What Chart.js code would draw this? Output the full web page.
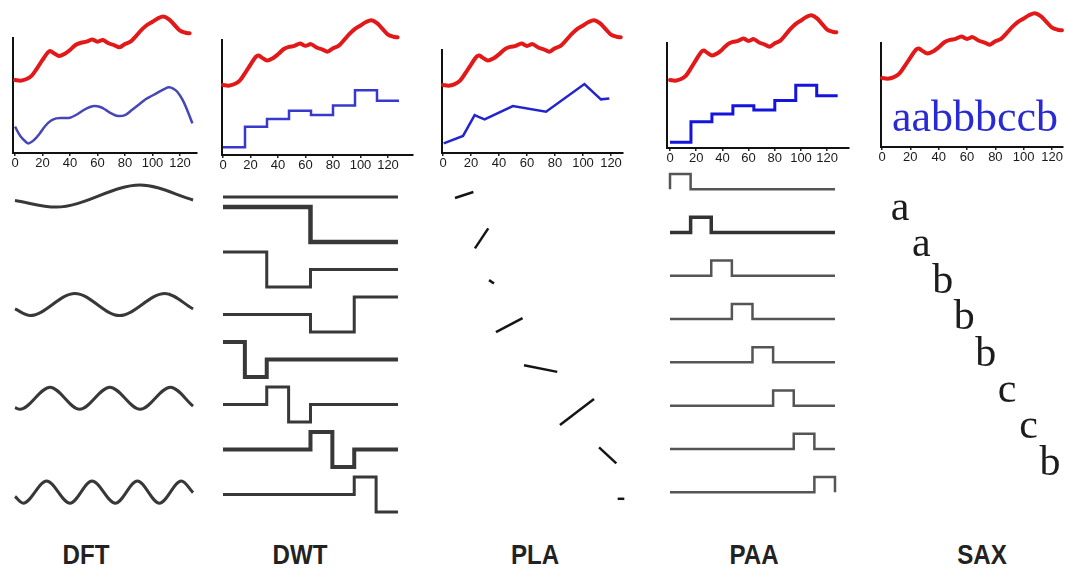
<!DOCTYPE html>
<html>
<head>
<meta charset="utf-8">
<script src="https://cdn.jsdelivr.net/npm/chart.js@4.4.0/dist/chart.umd.min.js"></script>
<style>
  body { margin: 0; width: 1070px; height: 570px; background: #fff; position: relative; overflow: hidden; }
  canvas { position: absolute; }
  .title { position: absolute; top: 539px; line-height: 28px; font: bold 28px "Liberation Sans", Arial, sans-serif; color: #222; transform: translateX(-50%) scaleX(0.86); white-space: nowrap; }
</style>
</head>
<body>
<div class="title" style="left:86px">DFT</div>
<div class="title" style="left:300px">DWT</div>
<div class="title" style="left:535px">PLA</div>
<div class="title" style="left:754px">PAA</div>
<div class="title" style="left:982px">SAX</div>
<script>
// ---- data ----
const xTicks = [0, 20, 40, 60, 80, 100, 120];

// the raw time series (red), same in every panel
const seriesX = [0, 4, 8, 12, 16, 20, 24, 26, 28, 32, 36, 40, 44, 48, 52, 56, 60, 64, 68, 72, 76, 80, 84, 88, 92, 96, 100, 104, 108, 112, 116, 120, 124, 127];
const seriesY = [63.5, 62.9, 64.1, 67, 73.6, 80.9, 87.6, 88.6, 87, 84.3, 86.1, 89.6, 93.9, 95.9, 96.8, 98.8, 96.8, 98.3, 95.4, 93.9, 91.9, 94.8, 96.8, 101.7, 107, 111.3, 114.2, 117.1, 118.6, 116.2, 111.3, 106.4, 104.6, 104.1];

// DFT approximation (blue)
const dftX = [0, 4, 8, 10, 14, 18, 22, 26, 30, 35, 40, 45, 50, 55, 58, 62, 66, 70, 75, 80, 85, 90, 95, 100, 105, 110, 112, 115, 118, 122, 126, 129];
const dftY = [22.9, 14.5, 9.5, 8.4, 11.5, 17, 23.5, 28, 30.1, 30.5, 30.7, 33.5, 37.4, 40.2, 40.9, 40, 37.5, 34.5, 32.2, 33, 37.4, 42, 46.7, 50, 53.3, 56.5, 57.1, 56, 53.3, 46, 35, 25.8];

// segment means used by DWT and PAA (8 segments of 16)
const segEdges = [0, 16, 32, 48, 64, 80, 96, 112, 128];
const segMeans = [10.5, 28, 34.5, 41.5, 38, 46, 59, 50];

// PLA approximation (blue)
const plaX = [0.5, 14.3, 22.6, 25, 29.7, 49.9, 73.6, 101, 112.8, 118.8];
const plaY = [13.8, 20.1, 37.9, 36.5, 34.3, 45.6, 40.8, 64.3, 51.3, 52.1];

// SAX word
const saxSymbols = ['a', 'a', 'b', 'b', 'b', 'c', 'c', 'b'];

// DFT basis waves: [t, level]
const dftBasis = [
  [[0, -0.4], [30, -1], [91, 1], [129.5, -0.35]],
  [[0, -0.4], [11, -1], [43.6, 1], [76, -1], [109, 1], [129.5, -0.4]],
  [[0, -0.85], [3.6, -1], [25.5, 1], [47, -1], [69, 1], [91, -1], [113, 1], [129.5, -0.7]],
  [[0, -0.4], [6, -1], [23, 1], [40, -1], [56, 1], [73, -1], [89, 1], [105, -1], [121, 1], [129.5, -0.05]]
];

// Haar basis levels per segment (1 = high, 0 = low)
const dwtBasis = [
  [0, 0, 0, 0, 0, 0, 0, 0],
  [1, 1, 1, 1, 0, 0, 0, 0],
  [1, 1, 0, 0, 0.5, 0.5, 0.5, 0.5],
  [0.5, 0.5, 0.5, 0.5, 0, 0, 1, 1],
  [1, 0, 0.5, 0.5, 0.5, 0.5, 0.5, 0.5],
  [0.5, 0.5, 1, 0, 0.5, 0.5, 0.5, 0.5],
  [0.5, 0.5, 0.5, 0.5, 1, 0, 0.5, 0.5],
  [0.5, 0.5, 0.5, 0.5, 0.5, 0.5, 1, 0]
];
const dwtWidths = [3, 4.5, 3, 3, 4, 3, 4, 3];

// PLA segments: [t0, t1, level0, level1]
const plaBasis = [
  [0, 13.8, -0.3, 0.3],
  [15, 25, -1, 1],
  [25.6, 29.3, 0.17, -0.17],
  [30.8, 50.8, -0.7, 0.7],
  [51.9, 76.9, 0.33, -0.33],
  [78.9, 104.5, -1.3, 1.3],
  [108.3, 121.3, 0.8, -0.8],
  [122.3, 127.3, 0, 0]
];

// PAA box functions
const paaBasis = [
  [1, 0, 0, 0, 0, 0, 0, 0],
  [0, 1, 0, 0, 0, 0, 0, 0],
  [0, 0, 1, 0, 0, 0, 0, 0],
  [0, 0, 0, 1, 0, 0, 0, 0],
  [0, 0, 0, 0, 1, 0, 0, 0],
  [0, 0, 0, 0, 0, 1, 0, 0],
  [0, 0, 0, 0, 0, 0, 1, 0],
  [0, 0, 0, 0, 0, 0, 0, 1]
];

// ---- layout ----
const cols = [
  { left: 0, width: 210, axisX: 13, axisTop: 38, axisBottom: 153, axisRight: 197, px0: 15, ppu: 1.375, yMin: 0, yMax: 100 },
  { left: 210, width: 220, axisX: 222, axisTop: 40, axisBottom: 155, axisRight: 413, px0: 223, ppu: 1.375, yMin: 3.9, yMax: 101.8 },
  { left: 430, width: 220, axisX: 442, axisTop: 50, axisBottom: 153, axisRight: 623, px0: 443, ppu: 1.4, yMin: 5.6, yMax: 93.3 },
  { left: 650, width: 220, axisX: 667, axisTop: 43, axisBottom: 148, axisRight: 849, px0: 670, ppu: 1.31, yMin: 5.6, yMax: 95 },
  { left: 870, width: 200, axisX: 881, axisTop: 43, axisBottom: 147, axisRight: 1063, px0: 882, ppu: 1.417, yMin: 4.8, yMax: 93.3 }
];
const bottoms = [
  { px0: 15, ppu: 1.375, rowTop: 199, rowGap: 97.7 },
  { px0: 223, ppu: 1.367, rowTop: 162, rowGap: 45 },
  { px0: 455, ppu: 1.33, rowTop: 195, rowGap: 43.4 },
  { px0: 670, ppu: 1.289, rowTop: 174, rowGap: 43.3 },
  { px0: 889.3, ppu: 1.339, rowTop: 220, rowGap: 36.4 }
];
// small vertical nudges of the DFT rows (row units)
const dftRowShift = [-0.03, 0.08, 0.04, 0];
const TOP_H = 175, BOT_Y = 170, BOT_H = 360, XAXIS_H = 20;

Chart.defaults.animation = false;
Chart.defaults.responsive = false;
Chart.defaults.plugins.legend.display = false;
Chart.defaults.plugins.tooltip.enabled = false;
Chart.defaults.elements.point.radius = 0;

function place(left, top, w, h) {
  const c = document.createElement('canvas');
  c.width = w; c.height = h;
  c.style.left = left + 'px'; c.style.top = top + 'px';
  c.style.width = w + 'px'; c.style.height = h + 'px';
  document.body.appendChild(c);
  return c;
}

const letterPlugin = {
  id: 'letters',
  afterDatasetsDraw(chart, args, opts) {
    if (!opts.labels) return;
    const ctx = chart.ctx;
    const meta = chart.getDatasetMeta(opts.dataset);
    ctx.save();
    ctx.font = opts.font;
    ctx.fillStyle = opts.color;
    ctx.textAlign = opts.align;
    ctx.textBaseline = 'alphabetic';
    meta.data.forEach((pt, i) => ctx.fillText(opts.labels[i], pt.x, pt.y));
    ctx.restore();
  }
};

function zip(xs, ys) { return xs.map((x, i) => ({ x: x, y: ys[i] })); }
function steps(edges, levels, f) {
  const pts = [];
  levels.forEach((v, k) => {
    pts.push({ x: edges[k], y: f(v) });
    pts.push({ x: edges[k + 1], y: f(v) });
  });
  return pts;
}

const redSet = {
  data: zip(seriesX, seriesY), borderColor: '#e31818', borderWidth: 4,
  tension: 0.3, clip: false, borderJoinStyle: 'round', borderCapStyle: 'round'
};

function topChart(i, extraSets, letters) {
  const c = cols[i];
  const cv = place(c.left, 0, c.width, TOP_H);
  new Chart(cv, {
    type: 'line',
    data: { datasets: [Object.assign({}, redSet)].concat(extraSets) },
    options: {
      layout: { padding: { left: c.axisX - c.left, right: c.left + c.width - c.axisRight, top: c.axisTop, bottom: TOP_H - c.axisBottom - XAXIS_H } },
      scales: {
        x: {
          type: 'linear', min: (c.axisX - c.px0) / c.ppu, max: (c.axisRight - c.px0) / c.ppu,
          afterFit: s => { s.height = XAXIS_H; },
          afterBuildTicks: s => { s.ticks = xTicks.map(v => ({ value: v })); },
          grid: { display: true, drawOnChartArea: false, tickLength: 3, color: '#222', lineWidth: 1.5 },
          border: { display: true, color: '#111', width: 2 },
          ticks: { autoSkip: false, maxRotation: 0, padding: 0, color: '#1a1a1a', font: { family: 'Liberation Sans', size: 13 } }
        },
        y: {
          min: c.yMin, max: c.yMax,
          afterFit: s => { s.width = 0; },
          ticks: { display: false },
          grid: { display: false, drawTicks: false },
          border: { display: true, color: '#111', width: 2 }
        }
      },
      plugins: { letters: letters || {} }
    },
    plugins: [letterPlugin]
  });
}

function bottomChart(i, datasets, letters) {
  const c = cols[i], b = bottoms[i];
  const cv = place(c.left, BOT_Y, c.width, BOT_H);
  const yMin = (BOT_Y - b.rowTop) / b.rowGap;
  new Chart(cv, {
    type: 'line',
    data: { datasets: datasets },
    options: {
      layout: { padding: 0 },
      scales: {
        x: { type: 'linear', display: false, min: (c.left - b.px0) / b.ppu, max: (c.left + c.width - b.px0) / b.ppu },
        y: { display: false, reverse: true, min: yMin, max: yMin + BOT_H / b.rowGap }
      },
      plugins: { letters: letters || {} }
    },
    plugins: [letterPlugin]
  });
}

// ---- top panels ----
topChart(0, [{ data: zip(dftX, dftY), borderColor: '#4646b6', borderWidth: 2.5, tension: 0.4 }]);
topChart(1, [{ data: steps(segEdges, segMeans, v => v), borderColor: '#3838cc', borderWidth: 2.5 }]);
topChart(2, [{ data: zip(plaX, plaY), borderColor: '#2424cc', borderWidth: 2.5 }]);
topChart(3, [{ data: steps(segEdges, segMeans, v => v), borderColor: '#1414dc', borderWidth: 3 }]);
topChart(4, [{ data: [{ x: 7, y: 18.4 }], showLine: false }],
  { dataset: 1, labels: [saxSymbols.join('')], font: '44px "Liberation Serif", "Times New Roman", serif', color: '#2a2ad2', align: 'left' });

// ---- bottom panels ----
const grey = '#383838';
bottomChart(0, dftBasis.map((w, r) => ({
  data: w.map(p => ({ x: p[0], y: r + dftRowShift[r] - p[1] * 0.113 })),
  borderColor: grey, borderWidth: 3, cubicInterpolationMode: 'monotone'
})));

bottomChart(1, dwtBasis.map((lv, r) => ({
  data: steps(segEdges, lv, v => r + (1 - v) * 0.78),
  borderColor: grey, borderWidth: dwtWidths[r], borderJoinStyle: 'miter'
})));

bottomChart(2, plaBasis.map((s, r) => ({
  data: [{ x: s[0], y: r - s[2] * 0.23 }, { x: s[1], y: r - s[3] * 0.23 }],
  borderColor: '#151515', borderWidth: 2.5
})));

bottomChart(3, paaBasis.map((lv, r) => {
  const f = v => r + (1 - v) * 0.35;
  return {
    data: [{ x: 0, y: f(0) }].concat(steps(segEdges, lv, f), [{ x: 128, y: f(0) }]),
    borderColor: r === 1 ? '#333' : '#555', borderWidth: r === 1 ? 3.5 : 2.5, borderJoinStyle: 'miter'
  };
}));

bottomChart(4, [{ data: saxSymbols.map((s, k) => ({ x: segEdges[k] + 8, y: k })), showLine: false }],
  { dataset: 0, labels: saxSymbols, font: '42px "Liberation Serif", "Times New Roman", serif', color: '#1c1c1c', align: 'center' });
</script>
</body>
</html>
